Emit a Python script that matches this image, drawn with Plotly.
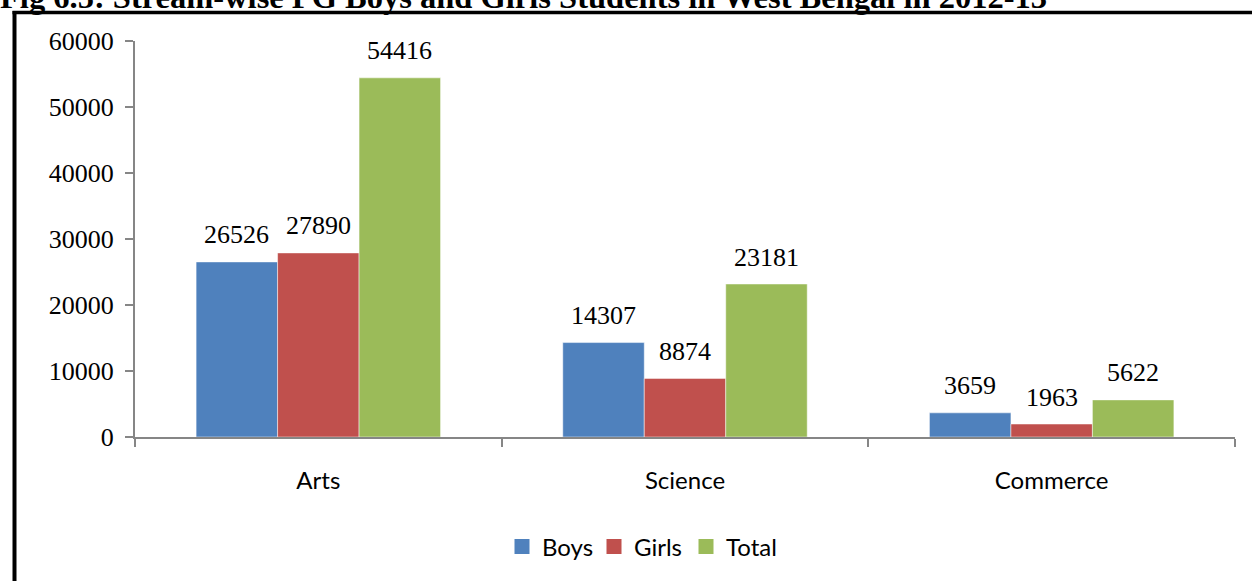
import plotly.graph_objects as go

# Stream-wise PG enrolment, West Bengal 2012-13
streams = ["Arts", "Science", "Commerce"]
boys = [26526, 14307, 3659]
girls = [27890, 8874, 1963]
total = [54416, 23181, 5622]

series_names = ["Boys", "Girls", "Total"]
series_values = [boys, girls, total]
series_colors = ["#4F81BD", "#C0504D", "#9BBB59"]

y_ticks = [0, 10000, 20000, 30000, 40000, 50000, 60000]

W, H = 1252, 581
ML, MR, MT, MB = 135, 17, 41, 144
PW, PH = W - ML - MR, H - MT - MB

SERIF = "Liberation Serif, Times New Roman, serif"
SANS = "Lato, Carlito, Calibri, sans-serif"
AXIS_GREY = "#868686"

fig = go.Figure()
for name, vals, col in zip(series_names, series_values, series_colors):
    fig.add_trace(go.Bar(
        name=name, x=streams, y=vals, showlegend=False,
        marker=dict(color=col, line=dict(color="rgba(255,255,255,0.6)", width=0.8)),
    ))
# legend entries with larger square keys
for name, col in zip(series_names, series_colors):
    fig.add_trace(go.Scatter(
        name=name, x=[None], y=[None], mode="markers",
        marker=dict(symbol="square", size=15, color=col),
    ))

# value labels above each bar
bargap = 1 / 3
bar_px = PW / len(streams) * (1 - bargap) / len(series_names)
for i, vals in enumerate(series_values):
    for s, v in zip(streams, vals):
        fig.add_annotation(
            x=s, y=v, xref="x", yref="y", text=str(v), showarrow=False,
            xshift=(i - 1) * bar_px, yshift=27, yanchor="middle",
            font=dict(family=SERIF, size=26, color="black"),
        )

def px_x(x):
    return (x - ML) / PW

def px_y(y):
    return (H - MB - y) / PH

# chart frame (top and left edges)
fig.add_shape(type="line", xref="paper", yref="paper",
              x0=px_x(12.5), x1=px_x(W + 5), y0=px_y(12.5), y1=px_y(12.5),
              line=dict(color="black", width=3.5))
fig.add_shape(type="line", xref="paper", yref="paper",
              x0=px_x(14.5), x1=px_x(14.5), y0=px_y(11), y1=px_y(H + 5),
              line=dict(color="black", width=4))

# figure caption
fig.add_annotation(
    xref="paper", yref="paper", x=px_x(-2), y=px_y(17), xanchor="left", yanchor="bottom",
    text="Fig 6.5: Stream-wise PG Boys and Girls Students in West Bengal in 2012-13",
    showarrow=False, font=dict(family=SERIF, size=32.5, color="black", weight="bold"),
)

fig.update_layout(
    width=W, height=H,
    margin=dict(l=ML, r=MR, t=MT, b=MB),
    paper_bgcolor="white", plot_bgcolor="white",
    barmode="group", bargap=bargap, bargroupgap=0,
    showlegend=True,
    legend=dict(orientation="h", x=px_x(640), xanchor="center", y=px_y(547), yanchor="middle",
                font=dict(family=SANS, size=24, color="black"),
                itemwidth=30, traceorder="normal", entrywidth=47),
    xaxis=dict(
        type="category", showline=True, linecolor=AXIS_GREY, linewidth=2,
        ticks="outside", tickson="boundaries", ticklen=8, tickcolor=AXIS_GREY, tickwidth=2,
        tickfont=dict(family=SANS, size=24, color="black"), showgrid=False,
        ticklabelstandoff=21,
    ),
    yaxis=dict(
        range=[0, 60000], tickvals=y_ticks, ticktext=[str(t) for t in y_ticks],
        showline=True, linecolor=AXIS_GREY, linewidth=2,
        ticks="outside", ticklen=8, tickcolor=AXIS_GREY, tickwidth=2,
        tickfont=dict(family=SERIF, size=26, color="black"), showgrid=False, zeroline=False,
        ticklabelstandoff=6,
    ),
)

fig.write_html("out.html")
